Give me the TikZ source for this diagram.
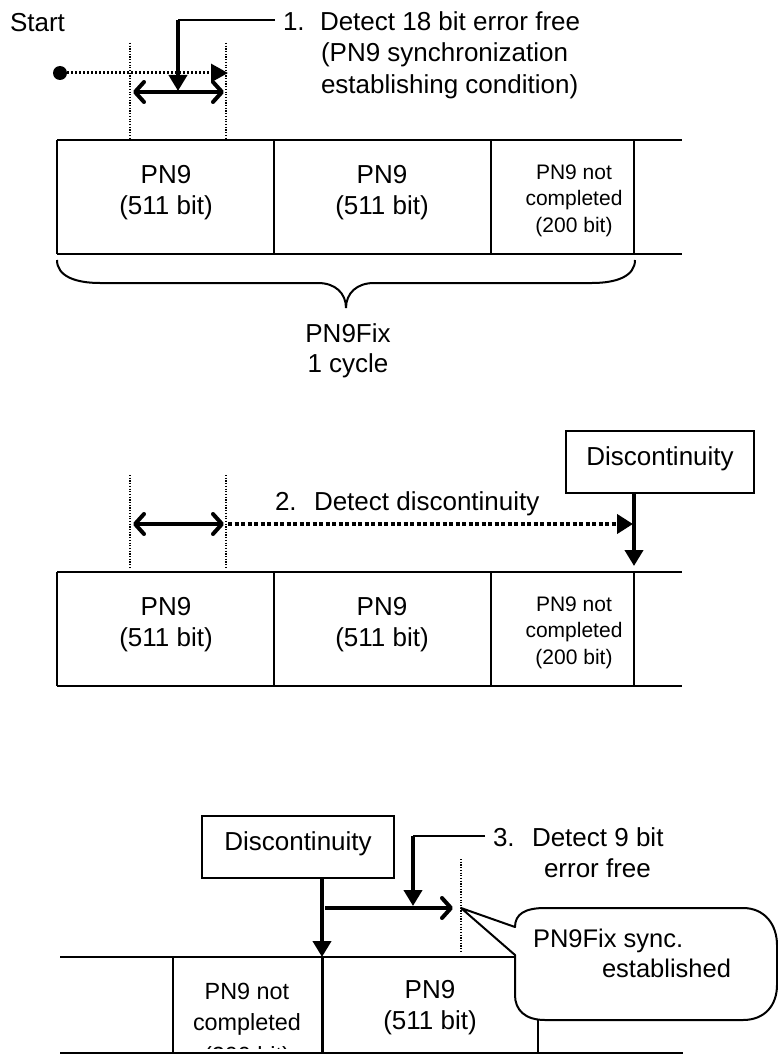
\documentclass[tikz,border=0pt]{standalone}
\usepackage{fontspec}
\setmainfont{Liberation Sans}
\usetikzlibrary{arrows.meta}
\begin{document}
\begin{tikzpicture}[x=1pt,y=-1pt,
  every node/.style={inner sep=0pt, outer sep=0pt},
  big/.style={font=\fontsize{26}{31}\selectfont},
  small/.style={font=\fontsize{21}{26}\selectfont},
  mid/.style={font=\fontsize{23.4}{28}\selectfont},
  rowline/.style={line width=2pt},
  thinline/.style={line width=2pt},
  dotline/.style={line width=2.4pt, dash pattern=on 1.2pt off 1.5pt},
  startline/.style={line width=3pt, dash pattern=on 2pt off 2pt, -{Triangle[length=17pt,width=18pt]}},
  fatdots/.style={line width=4.5pt, dash pattern=on 4pt off 2.5pt, -{Triangle[length=16pt,width=19pt]}},
  bigarrow/.style={line width=4pt, -{Triangle[length=16pt,width=18pt]}},
  twoway/.style={line width=4pt, {Straight Barb[length=9pt,width=20pt,round]}-{Straight Barb[length=9pt,width=20pt,round]}},
  openarrow/.style={line width=4pt, -{Straight Barb[length=9pt,width=20pt,round]}},
  labelbox/.style={draw, line width=2pt, minimum width=188pt, minimum height=62pt, big, text height=12pt, text depth=6pt},
  callout/.style={draw, fill=white, line width=2pt, line join=round},
]
\useasboundingbox (0,0) rectangle (778,1054);

% ---------------- Section 1 ----------------
\node[big, anchor=base west] (start) at (10,32) {Start};
\node[circle, fill=black, minimum size=14pt] (dot) at (60,73) {};
\coordinate (s1end) at (228,73);
\draw[startline] (dot) -- (s1end);

\coordinate (v1at) at (130,43); \coordinate (v1ab) at (130,138);
\coordinate (v1bt) at (226,43); \coordinate (v1bb) at (226,138);
\draw[dotline] (v1at) -- (v1ab);
\draw[dotline] (v1bt) -- (v1bb);

\coordinate (w1l) at (133,92); \coordinate (w1r) at (224,92);
\draw[twoway] (w1l) -- (w1r);

\coordinate (k1a) at (275,20); \coordinate (k1b) at (178,20); \coordinate (k1c) at (178,91);
\draw[thinline] (k1a) -- (k1b);
\draw[bigarrow] (k1b) -- (k1c);

\node[big, anchor=base west] (s1num) at (283,31) {1.};
\node[big, anchor=base west] (s1l1) at (320,31) {Detect 18 bit error free};
\node[big, anchor=base west] (s1l2) at (321,62) {(PN9 synchronization};
\node[big, anchor=base west] (s1l3) at (321,94) {establishing condition)};

% row 1
\draw[rowline] (57,140) -- (682,140);
\draw[rowline] (57,254) -- (682,254);
\foreach \x in {57,274,491,634} \draw[rowline] (\x,140) -- (\x,254);
\node[big, anchor=base] (r1a1) at (166,183) {PN9};
\node[big, anchor=base] (r1a2) at (166,214) {(511 bit)};
\node[big, anchor=base] (r1b1) at (382,183) {PN9};
\node[big, anchor=base] (r1b2) at (382,214) {(511 bit)};
\node[small, anchor=base] (r1c1) at (574,179) {PN9 not};
\node[small, anchor=base] (r1c2) at (574,205) {completed};
\node[small, anchor=base] (r1c3) at (574,232) {(200 bit)};

% brace
\draw[thinline] (57,260) .. controls (57,276) and (75,283) .. (100,283) -- (318,283)
  .. controls (335,283) and (346,293) .. (346,308)
  .. controls (346,293) and (357,283) .. (374,283) -- (592,283)
  .. controls (617,283) and (635,276) .. (635,260);
\node[big, anchor=base] (fix1) at (348,342) {PN9Fix};
\node[big, anchor=base] (fix2) at (348,372) {1 cycle};

% ---------------- Section 2 ----------------
\coordinate (v2at) at (130,475); \coordinate (v2ab) at (130,569);
\coordinate (v2bt) at (226,475); \coordinate (v2bb) at (226,569);
\draw[dotline] (v2at) -- (v2ab);
\draw[dotline] (v2bt) -- (v2bb);
\coordinate (w2l) at (133,524); \coordinate (w2r) at (224,524);
\draw[twoway] (w2l) -- (w2r);
\coordinate (f2a) at (228,524); \coordinate (f2b) at (633,524);
\draw[fatdots] (f2a) -- (f2b);
\node[big, anchor=base west] (s2num) at (275,510) {2.};
\node[big, anchor=base west] (s2txt) at (314,510) {Detect discontinuity};

\node[labelbox] (disc2) at (660,462) {Discontinuity};
\coordinate (d2tip) at (634,566);
\draw[bigarrow] (disc2.south -| d2tip) -- (d2tip);

% row 2
\draw[rowline] (57,572) -- (682,572);
\draw[rowline] (57,686) -- (682,686);
\foreach \x in {57,274,491,634} \draw[rowline] (\x,572) -- (\x,686);
\node[big, anchor=base] (r2a1) at (166,615) {PN9};
\node[big, anchor=base] (r2a2) at (166,646) {(511 bit)};
\node[big, anchor=base] (r2b1) at (382,615) {PN9};
\node[big, anchor=base] (r2b2) at (382,646) {(511 bit)};
\node[small, anchor=base] (r2c1) at (574,611) {PN9 not};
\node[small, anchor=base] (r2c2) at (574,637) {completed};
\node[small, anchor=base] (r2c3) at (574,664) {(200 bit)};

% ---------------- Section 3 ----------------
\node[labelbox, minimum width=192pt] (disc3) at (298,847) {Discontinuity};
\coordinate (d3tip) at (322,957);
\draw[bigarrow] (disc3.south -| d3tip) -- (d3tip);

\coordinate (h3a) at (325,908); \coordinate (h3b) at (453,908);
\draw[openarrow] (h3a) -- (h3b);

\coordinate (k3a) at (485,836); \coordinate (k3b) at (413,836); \coordinate (k3c) at (413,906);
\draw[thinline] (k3a) -- (k3b);
\draw[bigarrow] (k3b) -- (k3c);
\node[big, anchor=base west] (s3num) at (493,846) {3.};
\node[big, anchor=base west] (s3l1) at (532,846) {Detect 9 bit};
\node[big, anchor=base west] (s3l2) at (544,877) {error free};

\coordinate (v3t) at (461,859); \coordinate (v3b) at (461,953);
\draw[dotline] (v3t) -- (v3b);

% row 3
\draw[rowline] (60,957) -- (682,957);
\draw[rowline] (60,1053) -- (683,1053);
\draw[rowline] (173,957) -- (173,1053);
\draw[line width=3pt] (322,957) -- (322,1053);
\draw[rowline] (538,957) -- (538,1053);
\begin{scope}
  \clip (174,958) rectangle (321,1048);
  \node[mid, anchor=base] (r3a1) at (247,999) {PN9 not};
  \node[mid, anchor=base] (r3a2) at (247,1030) {completed};
  \node[mid, anchor=base] (r3a3) at (247,1063) {(200 bit)};
\end{scope}
\node[big, anchor=base] (r3b1) at (430,998) {PN9};
\node[big, anchor=base] (r3b2) at (430,1029) {(511 bit)};

% callout
\coordinate (ctip) at (v3t |- h3b);
\draw[callout] (ctip) -- (515,927) .. controls (515,914) and (525,908) .. (545,908)
  -- (743,908) .. controls (765,908) and (777,925) .. (777,945) -- (777,985)
  .. controls (777,1005) and (765,1020) .. (743,1020) -- (545,1020)
  .. controls (525,1020) and (515,1010) .. (515,995) -- (515,955) -- cycle;
\node[big, anchor=base west, font=\fontsize{25.5}{30}\selectfont] (cal1) at (533,947) {PN9Fix sync.};
\node[big, anchor=base west, font=\fontsize{25.5}{30}\selectfont] (cal2) at (602,977) {established};
\end{tikzpicture}
\end{document}
